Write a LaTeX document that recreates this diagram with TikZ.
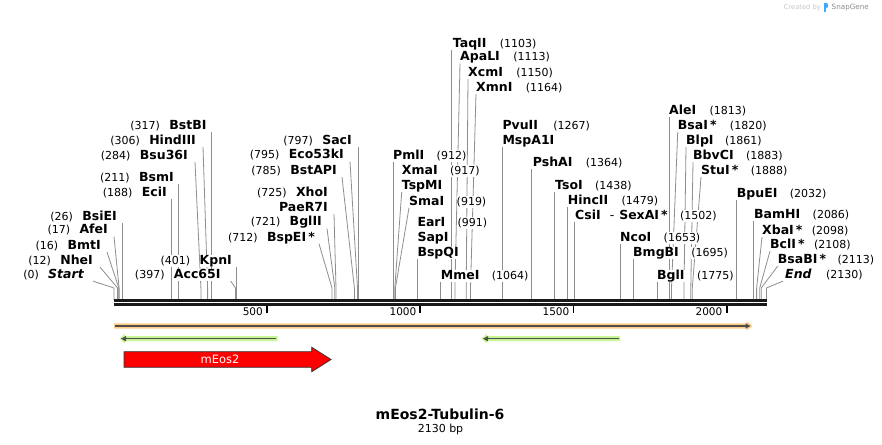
\documentclass[tikz,border=0pt]{standalone}
\usepackage{fontspec}
\setmainfont{DejaVu Sans}
\usetikzlibrary{positioning,arrows.meta,backgrounds}
\definecolor{leadgray}{HTML}{8E8E8E}
\definecolor{haloorange}{HTML}{FFCC88}
\definecolor{halogreen}{HTML}{C8F596}
\definecolor{featgray}{HTML}{4D4D4D}
\definecolor{arrowedge}{HTML}{333333}
\definecolor{snapblue}{HTML}{3FA9F5}

\begin{document}
\begin{tikzpicture}[x=1pt, y=-1pt,
    enz/.style={inner sep=0pt, text height=9pt, text depth=2.5pt, fill=white, font=\fontsize{12.5}{14}\selectfont\bfseries},
    enzit/.style={enz, font=\fontsize{12.5}{14}\selectfont\bfseries\itshape},
    num/.style={inner sep=0pt, text height=9pt, text depth=2.5pt, fill=white, font=\fontsize{11}{13}\selectfont},
    lead/.style={leadgray, line width=0.8pt},
    seqline/.style={black!90, line width=2.8pt},
    scaletick/.style={black, line width=1.8pt},
    ticklab/.style={inner sep=0pt, font=\fontsize{10.5}{12}\selectfont},
    featline/.style={featgray, line width=1.5pt, -{Triangle[length=5pt,width=5pt]}}]
	\useasboundingbox (0,0) rectangle (882,444);

	% cut sites on the sequence
	\coordinate (bend) at (0,288);
	\coordinate (c0) at (113.9,300);
	\coordinate (c12) at (117.6,300);
	\coordinate (c16) at (118.8,300);
	\coordinate (c17) at (119.1,300);
	\coordinate (c26) at (121.9,300);
	\coordinate (c188) at (171.5,300);
	\coordinate (c211) at (178.5,300);
	\coordinate (c284) at (200.9,300);
	\coordinate (c306) at (207.6,300);
	\coordinate (c317) at (211.0,300);
	\coordinate (c397) at (235.5,300);
	\coordinate (c401) at (236.7,300);
	\coordinate (c712) at (332.0,300);
	\coordinate (c721) at (334.8,300);
	\coordinate (c725) at (336.0,300);
	\coordinate (c785) at (354.4,300);
	\coordinate (c795) at (357.5,300);
	\coordinate (c797) at (358.1,300);
	\coordinate (c912) at (393.3,300);
	\coordinate (c917) at (394.8,300);
	\coordinate (c919) at (395.4,300);
	\coordinate (c991) at (417.5,300);
	\coordinate (c1064) at (439.9,300);
	\coordinate (c1103) at (451.8,300);
	\coordinate (c1113) at (454.9,300);
	\coordinate (c1150) at (466.2,300);
	\coordinate (c1164) at (470.5,300);
	\coordinate (c1267) at (502.1,300);
	\coordinate (c1364) at (531.8,300);
	\coordinate (c1438) at (554.4,300);
	\coordinate (c1479) at (567.0,300);
	\coordinate (c1502) at (574.0,300);
	\coordinate (c1653) at (620.3,300);
	\coordinate (c1695) at (633.2,300);
	\coordinate (c1775) at (657.7,300);
	\coordinate (c1813) at (669.3,300);
	\coordinate (c1820) at (671.5,300);
	\coordinate (c1861) at (684.0,300);
	\coordinate (c1883) at (690.8,300);
	\coordinate (c1888) at (692.3,300);
	\coordinate (c2032) at (736.4,300);
	\coordinate (c2086) at (752.9,300);
	\coordinate (c2098) at (756.6,300);
	\coordinate (c2108) at (759.7,300);
	\coordinate (c2113) at (761.2,300);
	\coordinate (c2130) at (766.4,300);

	% labels left of their sites
	\node[enz, anchor=base east] (bstbi) at (206.7,129.4) {BstBI};
	\node[num, left=9pt of bstbi] (n317) {(317)};
	\node[enz, anchor=base east] (hindiii) at (196,144.4) {HindIII};
	\node[num, left=9pt of hindiii] (n306) {(306)};
	\node[enz, anchor=base east] (bsu36i) at (188,159.4) {Bsu36I};
	\node[num, left=9pt of bsu36i] (n284) {(284)};
	\node[enz, anchor=base east] (bsmi) at (174,181.4) {BsmI};
	\node[num, left=9pt of bsmi] (n211) {(211)};
	\node[enz, anchor=base east] (ecii) at (167,196.4) {EciI};
	\node[num, left=9pt of ecii] (n188) {(188)};
	\node[enz, anchor=base east] (bsiei) at (117,220.4) {BsiEI};
	\node[num, left=9pt of bsiei] (n26) {(26)};
	\node[enz, anchor=base east] (afei) at (108,233.9) {AfeI};
	\node[num, left=9pt of afei] (n17) {(17)};
	\node[enz, anchor=base east] (bmti) at (101,249.4) {BmtI};
	\node[num, left=9pt of bmti] (n16) {(16)};
	\node[enz, anchor=base east] (nhei) at (93,264.4) {NheI};
	\node[num, left=9pt of nhei] (n12) {(12)};
	\node[enzit, anchor=base east] (start) at (84,278.4) {Start};
	\node[num, left=9pt of start] (n0) {(0)};
	\node[enz, anchor=base east] (kpni) at (232,264.4) {KpnI};
	\node[num, left=9pt of kpni] (n401) {(401)};
	\node[enz, anchor=base east] (acc65i) at (220.7,278.4) {Acc65I};
	\node[num, left=9pt of acc65i] (n397) {(397)};
	\node[enz, anchor=base east] (saci) at (352,144.4) {SacI};
	\node[num, left=9pt of saci] (n797) {(797)};
	\node[enz, anchor=base east] (eco53ki) at (344,158.9) {Eco53kI};
	\node[num, left=9pt of eco53ki] (n795) {(795)};
	\node[enz, anchor=base east] (bstapi) at (337,174.4) {BstAPI};
	\node[num, left=9pt of bstapi] (n785) {(785)};
	\node[enz, anchor=base east] (xhoi) at (328,196.4) {XhoI};
	\node[num, left=9pt of xhoi] (n725) {(725)};
	\node[enz, anchor=base east] (paer7i) at (328,211.4) {PaeR7I};
	\node[enz, anchor=base east] (bglii) at (322,225.9) {BglII};
	\node[num, left=9pt of bglii] (n721) {(721)};
	\node[enz, anchor=base east] (bspei) at (315,241.1) {BspEI\,*};
	\node[num, left=9pt of bspei] (n712) {(712)};

	% labels right of their sites
	\node[enz, anchor=base west] (pmli) at (393,159.4) {PmlI};
	\node[num, right=12pt of pmli] (n912) {(912)};
	\node[enz, anchor=base west] (xmai) at (401.7,174.4) {XmaI};
	\node[num, right=12pt of xmai] (n917) {(917)};
	\node[enz, anchor=base west] (tspmi) at (401.7,189.4) {TspMI};
	\node[enz, anchor=base west] (smai) at (409,205.1) {SmaI};
	\node[num, right=12pt of smai] (n919) {(919)};
	\node[enz, anchor=base west] (eari) at (417.3,226.1) {EarI};
	\node[num, right=12pt of eari] (n991) {(991)};
	\node[enz, anchor=base west] (sapi) at (417.3,241.1) {SapI};
	\node[enz, anchor=base west] (bspqi) at (417.3,256.1) {BspQI};
	\node[enz, anchor=base west] (mmei) at (440.7,279.4) {MmeI};
	\node[num, right=12pt of mmei] (n1064) {(1064)};
	\node[enz, anchor=base west] (taqii) at (452.7,47.1) {TaqII};
	\node[num, right=13pt of taqii] (n1103) {(1103)};
	\node[enz, anchor=base west] (apali) at (460,60.9) {ApaLI};
	\node[num, right=13pt of apali] (n1113) {(1113)};
	\node[enz, anchor=base west] (xcmi) at (468,76.1) {XcmI};
	\node[num, right=13pt of xcmi] (n1150) {(1150)};
	\node[enz, anchor=base west] (xmni) at (476,91.1) {XmnI};
	\node[num, right=13pt of xmni] (n1164) {(1164)};
	\node[enz, anchor=base west] (pvuii) at (502.3,129.4) {PvuII};
	\node[num, right=15pt of pvuii] (n1267) {(1267)};
	\node[enz, anchor=base west] (mspa1i) at (502.3,144.4) {MspA1I};
	\node[enz, anchor=base west] (pshai) at (532.7,166.1) {PshAI};
	\node[num, right=13pt of pshai] (n1364) {(1364)};
	\node[enz, anchor=base west] (tsoi) at (555,189.4) {TsoI};
	\node[num, right=12pt of tsoi] (n1438) {(1438)};
	\node[enz, anchor=base west] (hincii) at (567.7,204.4) {HincII};
	\node[num, right=13pt of hincii] (n1479) {(1479)};
	\node[enz, anchor=base west] (csii) at (575,219.4) {CsiI\hspace{9pt}{\mdseries -}\hspace{5pt}SexAI\,*};
	\node[num, right=12pt of csii] (n1502) {(1502)};
	\node[enz, anchor=base west] (ncoi) at (620,241.1) {NcoI};
	\node[num, right=12pt of ncoi] (n1653) {(1653)};
	\node[enz, anchor=base west] (bmgbi) at (633,256.1) {BmgBI};
	\node[num, right=12pt of bmgbi] (n1695) {(1695)};
	\node[enz, anchor=base west] (bgli) at (657,279.4) {BglI};
	\node[num, right=12pt of bgli] (n1775) {(1775)};
	\node[enz, anchor=base west] (alei) at (669,114.4) {AleI};
	\node[num, right=13pt of alei] (n1813) {(1813)};
	\node[enz, anchor=base west] (bsai) at (677.7,129.4) {BsaI\,*};
	\node[num, right=13pt of bsai] (n1820) {(1820)};
	\node[enz, anchor=base west] (blpi) at (686,144.4) {BlpI};
	\node[num, right=11pt of blpi] (n1861) {(1861)};
	\node[enz, anchor=base west] (bbvci) at (693,159.4) {BbvCI};
	\node[num, right=12pt of bbvci] (n1883) {(1883)};
	\node[enz, anchor=base west] (stui) at (701,174.4) {StuI\,*};
	\node[num, right=12pt of stui] (n1888) {(1888)};
	\node[enz, anchor=base west] (bpuei) at (736.7,197.4) {BpuEI};
	\node[num, right=12pt of bpuei] (n2032) {(2032)};
	\node[enz, anchor=base west] (bamhi) at (754,218.4) {BamHI};
	\node[num, right=12pt of bamhi] (n2086) {(2086)};
	\node[enz, anchor=base west] (xbai) at (762,234.4) {XbaI\,*};
	\node[num, right=9pt of xbai] (n2098) {(2098)};
	\node[enz, anchor=base west] (bcli) at (770,248.4) {BclI\,*};
	\node[num, right=9pt of bcli] (n2108) {(2108)};
	\node[enz, anchor=base west] (bsabi) at (777.7,263.4) {BsaBI\,*};
	\node[num, right=11pt of bsabi] (n2113) {(2113)};
	\node[enzit, anchor=base west] (endn) at (785,278.4) {End};
	\node[num, right=14pt of endn] (n2130) {(2130)};

	% leaders behind the labels
	\begin{scope}[on background layer]
		\fill[white] (0,0) rectangle (882,444);
		\draw[lead] (c317 |- bstbi.south) -- (c317);
		\draw[lead] ([xshift=7pt]hindiii.south east) -- (c306 |- bend) -- (c306);
		\draw[lead] ([xshift=7pt]bsu36i.south east) -- (c284 |- bend) -- (c284);
		\draw[lead] (c211 |- bsmi.south) -- (c211);
		\draw[lead] (c188 |- ecii.south) -- (c188);
		\draw[lead] (c26 |- bsiei.south) -- (c26);
		\draw[lead] ([xshift=6pt]afei.south east) -- (c17 |- bend) -- (c17);
		\draw[lead] ([xshift=6pt]bmti.south east) -- (c16 |- bend) -- (c16);
		\draw[lead] ([xshift=7pt]nhei.south east) -- (c12 |- bend) -- (c12);
		\draw[lead] ([xshift=9pt]start.south east) -- (c0 |- bend) -- (c0);
		\draw[lead] (c401 |- kpni.south) -- (c401);
		\draw[lead] ([xshift=10pt]acc65i.south east) -- (c397 |- bend) -- (c397);
		\draw[lead] (c797 |- saci.south) -- (c797);
		\draw[lead] ([xshift=6pt]eco53ki.south east) -- (c795 |- bend) -- (c795);
		\draw[lead] ([xshift=5pt]bstapi.south east) -- (c785 |- bend) -- (c785);
		\draw[lead] ([xshift=6pt]paer7i.south east) -- (c725 |- bend) -- (c725);
		\draw[lead] ([xshift=5pt]bglii.south east) -- (c721 |- bend) -- (c721);
		\draw[lead] ([xshift=4pt]bspei.south east) -- (c712 |- bend) -- (c712);
		\draw[lead] (c912 |- pmli.south) -- (c912);
		\draw[lead] (tspmi.south west) -- (c917 |- bend) -- (c917);
		\draw[lead] (smai.south west) -- (c919 |- bend) -- (c919);
		\draw[lead] (c991 |- bspqi.south) -- (c991);
		\draw[lead] (c1064 |- mmei.south) -- (c1064);
		\draw[lead] (c1103 |- taqii.south) -- (c1103);
		\draw[lead] (apali.south west) -- (c1113 |- bend) -- (c1113);
		\draw[lead] (xcmi.south west) -- (c1150 |- bend) -- (c1150);
		\draw[lead] (xmni.south west) -- (c1164 |- bend) -- (c1164);
		\draw[lead] (c1267 |- mspa1i.south) -- (c1267);
		\draw[lead] (c1364 |- pshai.south) -- (c1364);
		\draw[lead] (c1438 |- tsoi.south) -- (c1438);
		\draw[lead] (c1479 |- hincii.south) -- (c1479);
		\draw[lead] (c1502 |- csii.south) -- (c1502);
		\draw[lead] (c1653 |- ncoi.south) -- (c1653);
		\draw[lead] (c1695 |- bmgbi.south) -- (c1695);
		\draw[lead] (c1775 |- bgli.south) -- (c1775);
		\draw[lead] (c1813 |- alei.south) -- (c1813);
		\draw[lead] (bsai.south west) -- (c1820 |- bend) -- (c1820);
		\draw[lead] (blpi.south west) -- (c1861 |- bend) -- (c1861);
		\draw[lead] (bbvci.south west) -- (c1883 |- bend) -- (c1883);
		\draw[lead] (stui.south west) -- (c1888 |- bend) -- (c1888);
		\draw[lead] (c2032 |- bpuei.south) -- (c2032);
		\draw[lead] (c2086 |- bamhi.south) -- (c2086);
		\draw[lead] (xbai.south west) -- (c2098 |- bend) -- (c2098);
		\draw[lead] (bcli.south west) -- (c2108 |- bend) -- (c2108);
		\draw[lead] (bsabi.south west) -- (c2113 |- bend) -- (c2113);
		\draw[lead] ([xshift=-2pt]endn.south west) -- (c2130 |- bend) -- (c2130);
	\end{scope}

	% sequence and scale
	\coordinate (seqa) at (113.9,300.4);
	\coordinate (seqb) at (767.2,300.4);
	\draw[seqline] (seqa) -- (seqb);
	\draw[seqline] ([yshift=-4.3pt]seqa) -- ([yshift=-4.3pt]seqb);
	\coordinate (t500) at (267.1,306);
	\coordinate (t1000) at (420.3,306);
	\coordinate (t1500) at (573.4,306);
	\coordinate (t2000) at (726.6,306);
	\draw[scaletick] (t500) -- ++(0,6.5);
	\draw[scaletick] (t1000) -- ++(0,6.5);
	\draw[scaletick] (t1500) -- ++(0,6.5);
	\draw[scaletick] (t2000) -- ++(0,6.5);
	\node[ticklab, anchor=base east] (l500) at (263,315.5) {500};
	\node[ticklab, anchor=base east] (l1000) at (416.5,315.5) {1000};
	\node[ticklab, anchor=base east] (l1500) at (569.5,315.5) {1500};
	\node[ticklab, anchor=base east] (l2000) at (722.5,315.5) {2000};

	% features
	\fill[haloorange] (114,323.4) -- (746.5,323.4) -- (746.5,321.3) -- (752.5,326) -- (746.5,330.7) -- (746.5,328.6) -- (114,328.6) -- cycle;
	\draw[featline] (115,326) -- (750.5,326);
	\fill[halogreen] (277.7,336.2) -- (125,336.2) -- (125,334) -- (119.3,338.7) -- (125,343.4) -- (125,341.2) -- (277.7,341.2) -- cycle;
	\draw[featline] (276,338.7) -- (121,338.7);
	\fill[halogreen] (620,336.2) -- (487,336.2) -- (487,334) -- (481.3,338.7) -- (487,343.4) -- (487,341.2) -- (620,341.2) -- cycle;
	\draw[featline] (618.5,338.7) -- (483,338.7);
	\filldraw[fill=red, draw=arrowedge, line width=0.8pt] (124,351.7) -- (311.7,351.7) -- (311.7,347.3) -- (331,359.5) -- (311.7,371.7) -- (311.7,367.3) -- (124,367.3) -- cycle;
	\node[inner sep=0pt, text=white, font=\fontsize{11.5}{13}\selectfont, anchor=base] (meos) at (220,363.8) {mEos2};

	% title
	\node[inner sep=0pt, font=\fontsize{14}{16}\selectfont\bfseries, anchor=base] (title) at (440,419) {mEos2-Tubulin-6};
	\node[inner sep=0pt, font=\fontsize{11}{13}\selectfont, anchor=base] (size) at (440.5,432) {2130 bp};

	% credit
	\node[inner sep=0pt, text=black!22, font=\fontsize{6.7}{8}\selectfont, anchor=base east] (credit) at (821,9.8) {Created by};
	\fill[snapblue] (823.6,2.6) rectangle (825.6,12);
	\fill[snapblue] (825.6,2.6) .. controls (829.4,2.6) and (829.4,7.6) .. (825.6,7.6) -- cycle;
	\node[inner sep=0pt, text=black!45, font=\fontsize{7.2}{8}\selectfont, anchor=base west] (snapgene) at (831.5,9.8) {SnapGene};
\end{tikzpicture}
\end{document}
